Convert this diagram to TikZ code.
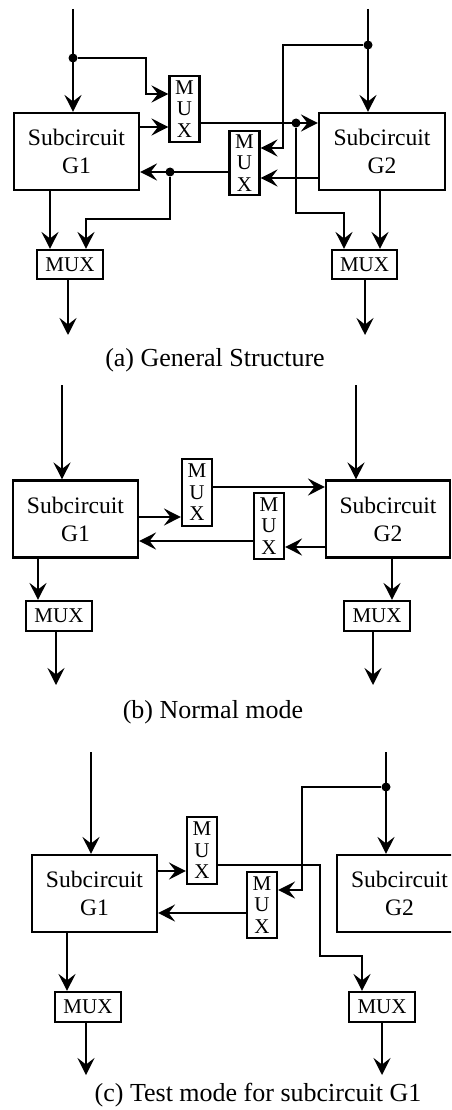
\documentclass[tikz,border=0pt]{standalone}
\usepackage{fontspec}
\setmainfont{Liberation Serif}
\usetikzlibrary{arrows.meta, calc}

\tikzset{
  blk/.style={draw, rectangle, line width=2.1pt, inner sep=0pt, minimum width=125pt, minimum height=77pt, align=center, font=\fontsize{23.6}{28}\selectfont},
  vmux/.style={draw, rectangle, line width=2.1pt, inner sep=0pt, minimum width=30pt, minimum height=66pt, align=center, font=\fontsize{21}{21.5}\selectfont},
  hmux/.style={draw, rectangle, line width=2.1pt, inner sep=0pt, minimum width=66pt, minimum height=29pt, font=\fontsize{21}{21.5}\selectfont},
  wire/.style={line width=2.1pt},
  sig/.style={wire, -{Stealth[length=17pt, width=17pt, inset=6.5pt]}},
  jn/.style={circle, fill, inner sep=0pt, minimum size=9pt},
  capt/.style={font=\fontsize{26}{30}\selectfont}
}

\begin{document}
\begin{tikzpicture}[x=1pt, y=-1pt]
    \useasboundingbox (0,0) rectangle (451,1110);
    \clip (0,0) rectangle (451,1110);

    % (a) General structure
    \coordinate (inA1) at (73,9);
    \coordinate (inA2) at (368,9);
    \coordinate (outA1) at (68,335);
    \coordinate (outA2) at (365,335);
    \node[blk] (G1a) at (76.5,151.5) {Subcircuit\\G1};
    \node[blk, minimum width=126pt] (G2a) at (382,151.5) {Subcircuit\\G2};
    \node[vmux] (M1a) at (184.5,109) {M\\U\\X};
    \node[vmux, minimum height=64pt] (M2a) at (244.5,163) {M\\U\\X};
    \node[hmux] (MLa) at (70,264.5) {MUX};
    \node[hmux, minimum width=65pt] (MRa) at (364.5,264.5) {MUX};
    \node[jn] (jA1) at (73,58) {};
    \node[jn] (jA2) at (368,45) {};
    \node[jn] (jA3) at (296,123) {};
    \node[jn] (jA4) at (170,172) {};

    \draw[sig] (inA1) -- (inA1 |- G1a.north);
    \draw[sig] (jA1) -| (146,94) -- (M1a.west |- 0,94);
    \draw[sig] (G1a.east |- 0,127) -- (M1a.west |- 0,127);
    \draw[sig] (M1a.east |- 0,123) -- (G2a.west |- 0,123);
    \draw[sig] (inA2) -- (inA2 |- G2a.north);
    \draw[sig] (jA2) -| (283,148) -- (M2a.east |- 0,148);
    \draw[sig] (G2a.west |- 0,178) -- (M2a.east |- 0,178);
    \draw[sig] (M2a.west |- 0,172) -- (G1a.east |- 0,172);
    \draw[sig] (jA4) |- (86,219) -- (MLa.north -| 86,0);
    \draw[sig] (G1a.south -| 50,0) -- (MLa.north -| 50,0);
    \draw[sig] (jA3) |- (344,213) -- (MRa.north -| 344,0);
    \draw[sig] (G2a.south -| 380,0) -- (MRa.north -| 380,0);
    \draw[sig] (MLa.south -| outA1) -- (outA1);
    \draw[sig] (MRa.south -| outA2) -- (outA2);
    \node[capt] (capA) at (215,360) {(a) General Structure};

    % (b) Normal mode
    \coordinate (inB1) at (62,385);
    \coordinate (inB2) at (356,385);
    \coordinate (outB1) at (56,685);
    \coordinate (outB2) at (373,685);
    \node[blk] (G1b) at (75.5,519) {Subcircuit\\G1};
    \node[blk, minimum width=124pt] (G2b) at (388,519) {Subcircuit\\G2};
    \node[vmux, minimum height=67pt] (M1b) at (197,492.5) {M\\U\\X};
    \node[vmux] (M2b) at (269,526) {M\\U\\X};
    \node[hmux, minimum height=30pt] (MLb) at (59,616) {MUX};
    \node[hmux, minimum height=30pt] (MRb) at (377,616) {MUX};

    \draw[sig] (inB1) -- (inB1 |- G1b.north);
    \draw[sig] (inB2) -- (inB2 |- G2b.north);
    \draw[sig] (G1b.east |- 0,517) -- (M1b.west |- 0,517);
    \draw[sig] (M1b.east |- 0,487) -- (G2b.west |- 0,487);
    \draw[sig] (G2b.west |- 0,547) -- (M2b.east |- 0,547);
    \draw[sig] (M2b.west |- 0,541) -- (G1b.east |- 0,541);
    \draw[sig] (G1b.south -| 38,0) -- (MLb.north -| 38,0);
    \draw[sig] (G2b.south -| 392,0) -- (MRb.north -| 392,0);
    \draw[sig] (MLb.south -| outB1) -- (outB1);
    \draw[sig] (MRb.south -| outB2) -- (outB2);
    \node[capt] (capB) at (213,712) {(b) Normal mode};

    % (c) Test mode for G1
    \coordinate (inC1) at (91,752);
    \coordinate (inC2) at (386,752);
    \coordinate (outC1) at (86,1075);
    \coordinate (outC2) at (382,1075);
    \node[blk] (G1c) at (94.5,893.5) {Subcircuit\\G1};
    \node[blk] (G2c) at (399.5,893.5) {Subcircuit\\G2};
    \node[vmux, minimum height=67pt] (M1c) at (202,850.5) {M\\U\\X};
    \node[vmux] (M2c) at (262,905) {M\\U\\X};
    \node[hmux, minimum height=30pt] (MLc) at (88,1007) {MUX};
    \node[hmux, minimum height=30pt] (MRc) at (382,1007) {MUX};
    \node[jn] (jC1) at (386,787) {};

    \draw[sig] (inC1) -- (inC1 |- G1c.north);
    \draw[sig] (inC2) -- (inC2 |- G2c.north);
    \draw[sig] (jC1) -| (302,890) -- (M2c.east |- 0,890);
    \draw[sig] (G1c.east |- 0,871) -- (M1c.west |- 0,871);
    \draw[sig] (M1c.east |- 0,865) -| (320,956) -| (MRc.north -| 362,0);
    \draw[sig] (M2c.west |- 0,913) -- (G1c.east |- 0,913);
    \draw[sig] (G1c.south -| 67,0) -- (MLc.north -| 67,0);
    \draw[sig] (MLc.south -| outC1) -- (outC1);
    \draw[sig] (MRc.south -| outC2) -- (outC2);
    \node[capt] (capC) at (258,1095) {(c) Test mode for subcircuit G1};
\end{tikzpicture}
\end{document}
